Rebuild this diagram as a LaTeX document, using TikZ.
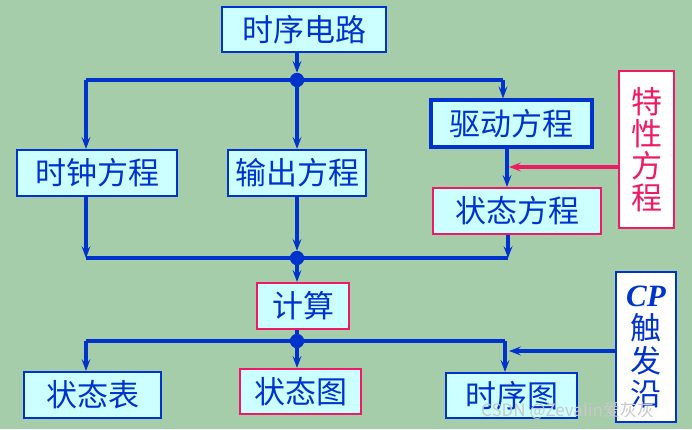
\documentclass[tikz,border=0pt]{standalone}
\usepackage{fontspec}
\newfontfamily\cjk{Noto Sans CJK SC}
\newfontfamily\cpfont{Liberation Serif}
\usetikzlibrary{arrows.meta}
\definecolor{bg}{HTML}{A6CDAA}
\definecolor{boxfill}{HTML}{CCFFFF}
\definecolor{lblue}{HTML}{0033CC}
\definecolor{lred}{HTML}{EE1A66}
\definecolor{wmark}{HTML}{C8C8C8}
\begin{document}
\begin{tikzpicture}[x=1pt,y=-1pt,
  box/.style={draw=lblue, fill=boxfill, line width=2.2pt, inner sep=0pt, text=lblue,
    font=\cjk\fontsize{31}{32}\selectfont},
  redbox/.style={box, draw=lred},
  wire/.style={draw=lblue, line width=3.4pt},
  arr/.style={wire, -{Stealth[length=12pt,width=9pt,inset=5pt]}},
  rarr/.style={arr, draw=lred, fill=lred},
  jdot/.style={circle, fill=lblue, inner sep=0pt, minimum size=14pt}]
\useasboundingbox[fill=bg] (0,0) rectangle (692,429);

% boxes
\node[box, minimum width=164pt, minimum height=45pt] (circ) at (304,29.5) {时序电路};
\node[box, minimum width=160pt, minimum height=46pt] (clk) at (97,173) {时钟方程};
\node[box, minimum width=138pt, minimum height=46pt] (out) at (297,173) {输出方程};
\node[box, line width=3.2pt, minimum width=161pt, minimum height=47pt] (drv) at (511.5,123.5) {驱动方程};
\node[redbox, minimum width=168pt, minimum height=46pt] (st) at (517,211) {状态方程};
\node[redbox, fill=white, text=lred, minimum width=55pt, minimum height=157pt, align=center] (char) at (646.5,149.5) {特\\性\\方\\程};
\node[redbox, minimum width=92pt, minimum height=46pt] (calc) at (303,306) {计算};
\node[box, minimum width=137pt, minimum height=46pt] (tab) at (92.5,395) {状态表};
\node[redbox, minimum width=121pt, minimum height=45pt] (dia) at (300.5,391.5) {状态图};
\node[box, minimum width=131pt, minimum height=45pt] (tim) at (511.5,395.5) {时序图};
\node[box, fill=white, minimum width=60pt, minimum height=150pt, align=center,
  font=\cjk\fontsize{31}{33}\selectfont] (cp) at (646,347)
  {{\cpfont\bfseries\itshape CP}\\触\\发\\沿};

% junction dots
\node[jdot] (d1) at (297,80) {};
\node[jdot] (d2) at (297,258) {};
\node[jdot] (d3) at (297,341) {};
\coordinate (l1) at (86,80);
\coordinate (r1) at (503,80);
\coordinate (vx) at (507,0);
\coordinate (rj) at (509,167);
\coordinate (l2) at (86,258);
\coordinate (r2) at (508,258);
\coordinate (l3) at (86,341);
\coordinate (r3) at (505,341);
\coordinate (cj) at (509,351);

% top distribution
\draw[arr] (circ.south -| d1) -- (d1.north);
\draw[wire] (l1) -- (r1);
\draw[arr] (l1) -- (l1 |- clk.north);
\draw[arr] (d1) -- (d1 |- out.north);
\draw[arr] (r1) -- (r1 |- drv.north);
\draw[arr] (drv.south -| vx) -- (st.north -| vx);
\draw[rarr] (char.west |- rj) -- (rj);

% merge
\draw[wire] (l2) -- (r2);
\draw[arr] (clk.south -| l2) -- (l2);
\draw[arr] (st.south -| r2) -- (r2);
\draw[arr] (out.south) -- (d2.north);
\draw[arr] (d2) -- (d2 |- calc.north);

% bottom distribution
\draw[wire] (calc.south -| d3) -- (d3);
\draw[wire] (l3) -- (r3);
\draw[arr] (l3) -- (l3 |- tab.north);
\draw[arr] (d3) -- (d3 |- dia.north);
\draw[arr] (r3) -- (r3 |- tim.north);
\draw[arr] (cp.west |- cj) -- (cj);

% redraw dots on top
\fill[lblue] (d1) circle (7pt) (d2) circle (7pt) (d3) circle (7pt);

% watermark
\node[anchor=west, text=wmark, inner sep=0pt,
  font=\cjk\fontsize{17}{17}\selectfont] (wm) at (481,411) {CSDN @Zevalin爱灰灰};
\end{tikzpicture}
\end{document}
